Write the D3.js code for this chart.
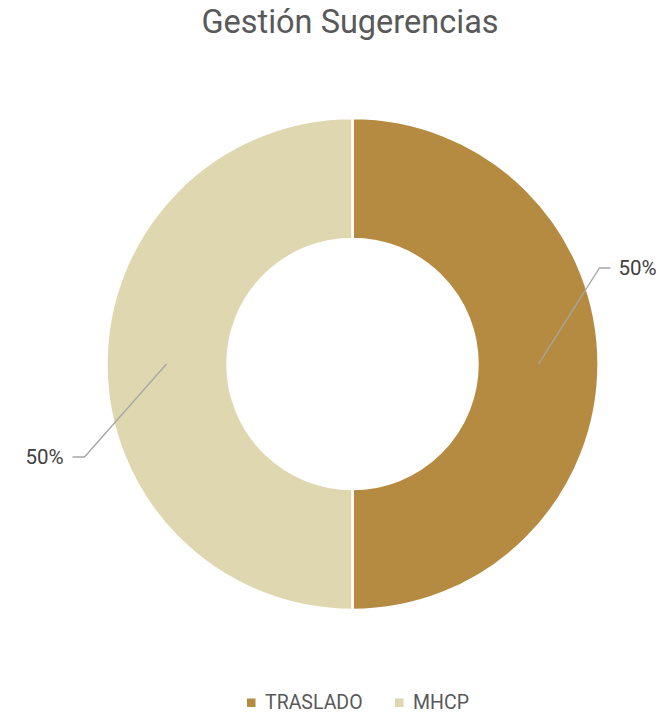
<!DOCTYPE html>
<html>
<head>
<meta charset="utf-8">
<script src="https://cdn.jsdelivr.net/npm/d3@7"></script>
<style>
  html, body { margin: 0; padding: 0; background: #fff; }
  svg { display: block; }
</style>
</head>
<body>
<svg id="chart" width="664" height="713"></svg>
<script>
// Category data for the donut
const categories = ["TRASLADO", "MHCP"];
const values = [50, 50];
const colors = ["#b58b42", "#dfd7b0"];
const titleText = "Gestión Sugerencias";

const svg = d3.select("#chart");
const cx = 352.5, cy = 364;
const outerR = 246, innerR = 125;
const fontFamily = "Roboto, 'Open Sans', 'Liberation Sans', sans-serif";

// Title
svg.append("text")
  .attr("x", 350)
  .attr("y", 33)
  .attr("text-anchor", "middle")
  .attr("font-family", fontFamily)
  .attr("font-size", 32.5)
  .attr("fill", "#595959")
  .text(titleText);

const data = categories.map((c, i) => ({ name: c, value: values[i], color: colors[i] }));
const total = d3.sum(values);

const pie = d3.pie().value(d => d.value).sort(null);
const arc = d3.arc().innerRadius(innerR).outerRadius(outerR);
const arcs = pie(data);

const g = svg.append("g").attr("transform", `translate(${cx},${cy})`);

g.selectAll("path.slice")
  .data(arcs)
  .enter().append("path")
  .attr("class", "slice")
  .attr("d", arc)
  .attr("fill", d => d.data.color)
  .attr("stroke", "#ffffff")
  .attr("stroke-width", 2.5);

// Leader lines and percentage labels
const fmt = d3.format(".0%");
const labelArc = d3.arc().innerRadius(186).outerRadius(186);
arcs.forEach(d => {
  const mid = (d.startAngle + d.endAngle) / 2;
  const right = Math.sin(mid) > 0;
  const p0 = labelArc.centroid(d);
  const bend = right ? [247, -96] : [-268, 93];
  const end = right ? [bend[0] + 11, bend[1]] : [bend[0] - 12, bend[1]];
  g.append("polyline")
    .attr("points", [p0, bend, end].map(p => p.join(",")).join(" "))
    .attr("fill", "none")
    .attr("stroke", "#a6a6a6")
    .attr("stroke-width", 1.3);
  g.append("text")
    .attr("x", right ? end[0] + 8 : end[0] - 9)
    .attr("y", end[1])
    .attr("dy", "0.35em")
    .attr("text-anchor", right ? "start" : "end")
    .attr("font-family", fontFamily)
    .attr("font-size", 20.5)
    .attr("fill", "#404040")
    .text(fmt(d.data.value / total));
});

// Legend
const legend = svg.append("g").attr("transform", "translate(0,702)");
const legendX = [247, 395];
data.forEach((d, i) => {
  legend.append("rect")
    .attr("x", legendX[i])
    .attr("y", -3.5)
    .attr("width", 8.5)
    .attr("height", 8.5)
    .attr("fill", d.color);
  legend.append("text")
    .attr("x", legendX[i] + 18)
    .attr("y", 0)
    .attr("dy", "0.35em")
    .attr("font-family", fontFamily)
    .attr("font-size", 19.5)
    .attr("fill", "#595959")
    .text(d.name);
});
</script>
</body>
</html>
